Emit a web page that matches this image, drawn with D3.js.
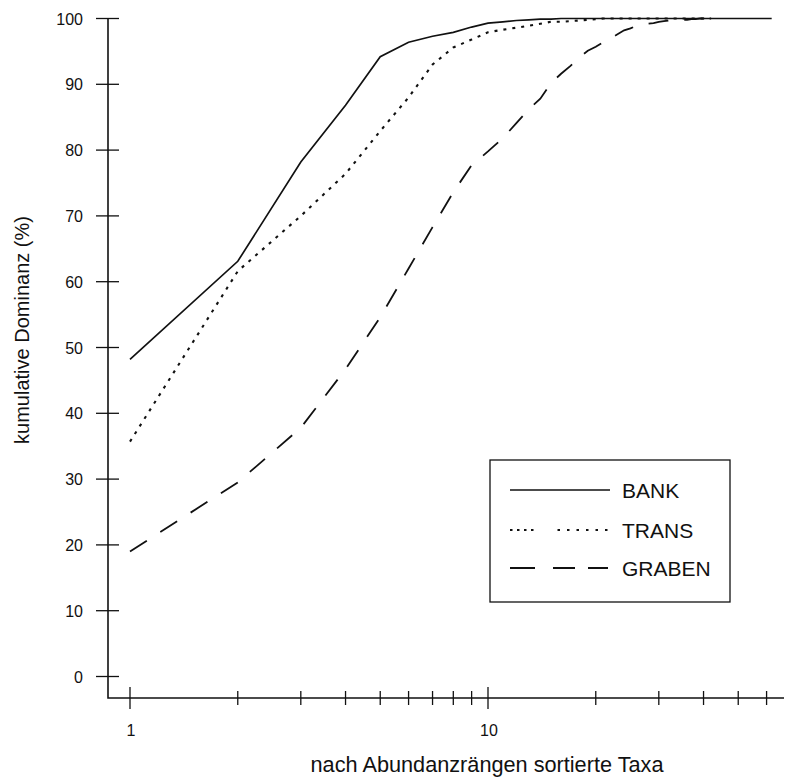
<!DOCTYPE html>
<html>
<head>
<meta charset="utf-8">
<script src="https://cdn.jsdelivr.net/npm/d3@7"></script>
<style>
  html, body { margin: 0; padding: 0; background: #fff; }
  svg { display: block; font-family: "Liberation Sans", Arial, Helvetica, sans-serif; }
</style>
</head>
<body>
<svg id="chart" width="789" height="781"></svg>
<script>
// Cumulative dominance (%) by abundance rank (rank 1 = most abundant taxon)
const bankValues = [
  48.2, 63.1, 78.2, 86.8, 94.2, 96.4, 97.3, 97.9, 98.7, 99.3,
  99.5, 99.7, 99.8, 99.9, 99.9, 100, 100, 100, 100, 100,
  100, 100, 100, 100, 100, 100, 100, 100, 100, 100,
  100, 100, 100, 100, 100, 100, 100, 100, 100, 100,
  100, 100, 100, 100, 100, 100, 100, 100, 100, 100,
  100, 100, 100, 100, 100, 100, 100, 100, 100, 100,
  100, 100
];
const transValues = [
  35.7, 61.6, 70.0, 76.4, 82.9, 88.0, 93.0, 95.6, 96.8, 97.9,
  98.3, 98.6, 98.9, 99.2, 99.5, 99.5, 99.6, 99.7, 99.8, 99.9,
  100, 100, 100, 100, 100, 100, 100, 100, 100, 100,
  100, 100, 100, 100, 100, 100, 100, 100, 100, 100,
  100, 100
];
const grabenValues = [
  19.0, 29.5, 37.8, 46.7, 54.6, 62.0, 68.3, 73.6, 77.7, 79.8,
  81.8, 84.1, 86.2, 87.8, 90.2, 91.6, 92.8, 94.1, 95.1, 95.7,
  96.4, 97.0, 97.6, 98.2, 98.5, 98.9, 99.0, 99.2, 99.3, 99.5,
  99.6, 99.7, 99.7, 99.8, 99.8, 99.8, 99.9, 99.9, 100, 100,
  100, 100, 100
];
const seriesNames = ["BANK", "TRANS", "GRABEN"];

const yTicks = [0, 10, 20, 30, 40, 50, 60, 70, 80, 90, 100];
const xTicks = [1, 2, 3, 4, 5, 6, 7, 8, 9, 10, 20, 30, 40, 50, 60];
const xTickLabels = { 1: "1", 10: "10" };

const yTitle = "kumulative Dominanz (%)";
const xTitle = "nach Abundanzrängen sortierte Taxa";

const svg = d3.select("#chart");
const ink = "#111";

const x = d3.scaleLog().domain([1, 10]).range([130, 488]);
const y = d3.scaleLinear().domain([0, 100]).range([676.5, 18.5]);

const axisX0 = 108, axisY0 = 698, axisXEnd = 784;

// axes lines
svg.append("path")
  .attr("d", `M${axisX0},${y(100)}V${axisY0}H${axisXEnd}`)
  .attr("fill", "none").attr("stroke", ink).attr("stroke-width", 1.6);

// y ticks (crossing the axis)
svg.append("g").selectAll("line").data(yTicks).join("line")
  .attr("x1", 96).attr("x2", 119)
  .attr("y1", d => y(d)).attr("y2", d => y(d))
  .attr("stroke", ink).attr("stroke-width", 1.3);

svg.append("g").selectAll("text").data(yTicks).join("text")
  .attr("x", 83).attr("y", d => y(d) + 6)
  .attr("text-anchor", "end").attr("font-size", 16).attr("fill", ink)
  .text(d => d);

// x ticks (crossing the axis); decades longer
svg.append("g").selectAll("line").data(xTicks).join("line")
  .attr("x1", d => x(d)).attr("x2", d => x(d))
  .attr("y1", d => xTickLabels[d] ? 687 : 691)
  .attr("y2", d => xTickLabels[d] ? 709 : 705)
  .attr("stroke", ink).attr("stroke-width", 1.3);

svg.append("g").selectAll("text").data(xTicks.filter(d => xTickLabels[d])).join("text")
  .attr("x", d => x(d) + 1).attr("y", 736)
  .attr("text-anchor", "middle").attr("font-size", 16).attr("fill", ink)
  .text(d => xTickLabels[d]);

// axis titles
svg.append("text")
  .attr("transform", "translate(29,330) rotate(-90)")
  .attr("text-anchor", "middle").attr("font-size", 20).attr("fill", ink)
  .text(yTitle);

svg.append("text")
  .attr("x", 487).attr("y", 772)
  .attr("text-anchor", "middle").attr("font-size", 21.7).attr("fill", ink)
  .text(xTitle);

// curves
const line = d3.line()
  .x((d, i) => x(i + 1))
  .y(d => y(d));

const series = [
  { name: seriesNames[0], values: bankValues, dash: null, width: 1.7 },
  { name: seriesNames[1], values: transValues, dash: "3,6", width: 2.1 },
  { name: seriesNames[2], values: grabenValues, dash: "20,16", width: 1.8 }
];

svg.append("g").selectAll("path").data(series).join("path")
  .attr("d", d => line(d.values))
  .attr("fill", "none")
  .attr("stroke", ink)
  .attr("stroke-width", d => d.width)
  .attr("stroke-dasharray", d => d.dash);

// legend
const lg = svg.append("g");
lg.append("rect")
  .attr("x", 490).attr("y", 460).attr("width", 240).attr("height", 142)
  .attr("fill", "#fff").attr("stroke", ink).attr("stroke-width", 1.3);

const legendRows = [490, 530, 568];
const legendDash = [
  null,
  "2.5,4.5,2.5,4.5,2.5,4.5,2.5,24,2.5,7,2.5,7,2.5,7,2.5,7,2.5,7,2.5,60",
  "25,18,22,13,20"
];
series.forEach((s, i) => {
  lg.append("line")
    .attr("x1", 510).attr("x2", 610)
    .attr("y1", legendRows[i]).attr("y2", legendRows[i])
    .attr("stroke", ink).attr("stroke-width", s.width)
    .attr("stroke-dasharray", legendDash[i]);
  lg.append("text")
    .attr("x", 622).attr("y", legendRows[i] + 7.5)
    .attr("font-size", 21).attr("fill", ink)
    .text(s.name);
});
</script>
</body>
</html>
